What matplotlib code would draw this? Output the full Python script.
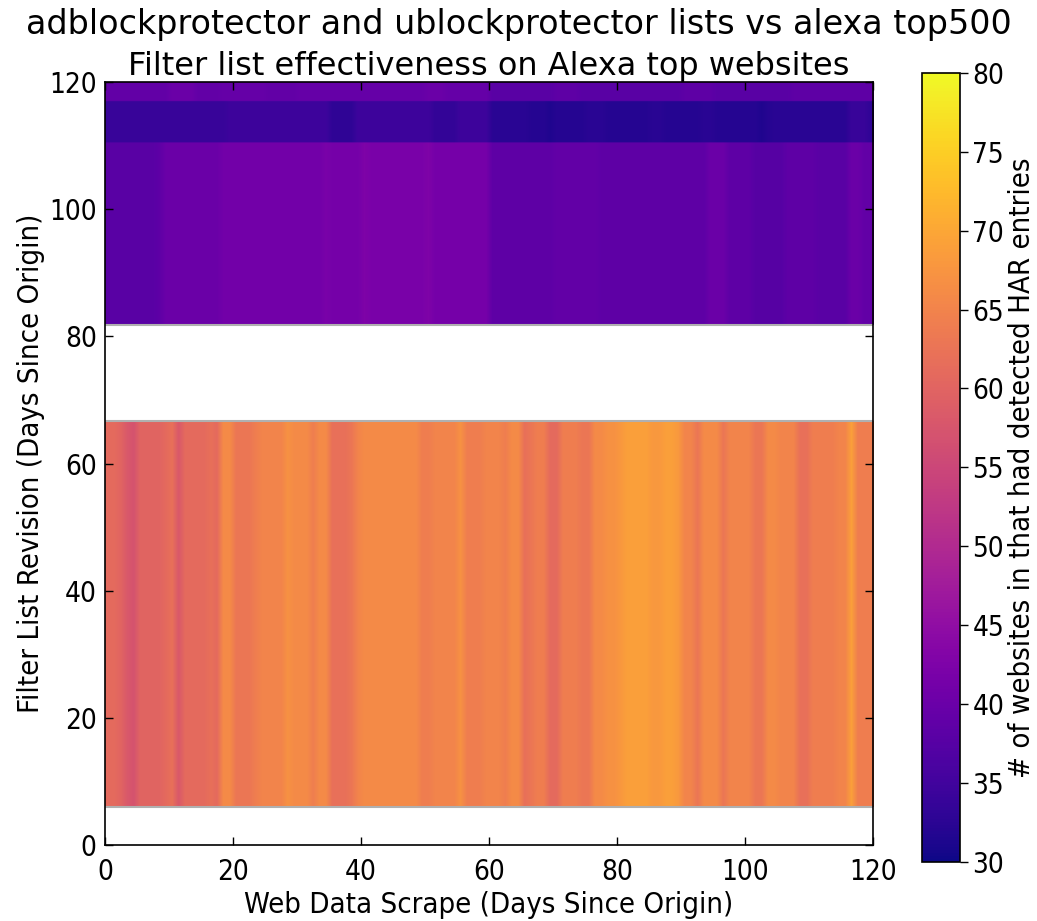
import numpy as np
import matplotlib.pyplot as plt

plt.rcParams['font.family'] = ['DejaVu Sans']

# web data scrape day (columns) and filter list revision bands (rows)
scrape_days = np.arange(121)
band_lo = [0, 6, 66.7, 81.8, 110.5, 117]
band_hi = [6, 66.7, 81.8, 110.5, 117, 120]

# detected websites per scrape day, one list per revision band
adblock_old = [61, 61, 60, 58, 57, 60, 60, 60, 60, 61,
               62, 58, 61, 61, 61, 61, 62, 61, 66, 66,
               63, 63, 63, 64, 65, 65, 65, 65, 67, 66,
               66, 66, 64, 66, 66, 62, 62, 62, 63, 65,
               66, 66, 66, 66, 66, 66, 66, 66, 66, 64,
               64, 65, 65, 65, 65, 67, 64, 64, 64, 65,
               65, 65, 64, 66, 66, 62, 63, 64, 64, 61,
               61, 64, 64, 64, 63, 63, 66, 66, 67, 67,
               68, 69, 69, 69, 69, 68, 68, 69, 69, 68,
               65, 65, 63, 66, 66, 66, 63, 65, 65, 65,
               65, 63, 63, 66, 66, 65, 65, 65, 62, 62,
               64, 64, 64, 64, 65, 65, 69, 64, 64, 64]
ublock_mid = [38, 38, 38, 38, 38, 38, 38, 38, 38.5, 40,
              40, 40, 40, 40, 40, 40, 40, 40, 41, 41,
              41, 41, 41, 41, 41, 41, 41, 41, 41, 41,
              41, 41, 41, 41, 42, 41.5, 41.5, 41.5, 41.5, 41.5,
              42.5, 42, 42, 42, 42, 42, 42, 42, 42, 42,
              42.5, 41.5, 41.5, 41.5, 41.5, 41.5, 41.5, 41.5, 41.5, 41.5,
              38.5, 38.5, 38.5, 38.5, 38.5, 38.5, 38.5, 38.5, 38.5, 38.5,
              39, 39, 39, 39, 39, 39, 39, 38.5, 38.5, 38.5,
              38.5, 38.5, 38.5, 38.5, 38.5, 38.5, 38.5, 38.5, 38.5, 38.5,
              38.5, 38.5, 38.5, 38.5, 40, 40, 40, 38.5, 38.5, 38.5,
              38.5, 37.5, 37.5, 37.5, 37.5, 37.5, 38.5, 38.5, 38.5, 38.5,
              38.5, 38, 38, 38, 38, 38, 40, 40, 39, 39]
ublock_new = [34, 34, 34, 34, 34, 34, 34, 34, 34, 34,
              34, 34, 34, 34, 34, 34, 34, 34, 34, 34.5,
              34.5, 34.5, 34.5, 34.5, 34.5, 34.5, 34.5, 34.5, 34.5, 34.5,
              34.5, 34.5, 34.5, 34.5, 34.5, 33, 33, 33, 33, 34.5,
              34.5, 34.5, 34.5, 34.5, 34.5, 34.5, 34.5, 34.5, 34.5, 34.5,
              34.5, 33.5, 33.5, 33.5, 33.5, 34.5, 34.5, 34.5, 34.5, 34.5,
              32.5, 32.5, 32.5, 32.5, 32.5, 32.5, 32, 32, 32, 31.5,
              32, 32, 32, 32, 32, 32.5, 32.5, 32.5, 32, 32,
              32, 32, 32, 32, 32, 32.5, 32.5, 32, 32, 32,
              32, 32, 32, 32.5, 32.5, 32, 32, 32, 32, 32,
              32, 32, 31.5, 32, 32.5, 32.5, 32.5, 32.5, 32.5, 32.5,
              32.5, 32.5, 32.5, 32.5, 32.5, 32.5, 34, 34, 34, 33]
ublock_last = [39, 39, 39, 39, 39, 39, 39, 39, 39, 39,
               40, 40, 40, 40, 39, 39, 39, 39, 39.5, 39.5,
               39.5, 39.5, 39.5, 39.5, 39.5, 39, 39, 39, 39, 39,
               39.5, 39.5, 39.5, 39.5, 39.5, 39.5, 39.5, 39.5, 39.5, 39.5,
               39.5, 39.5, 39.5, 39.5, 39.5, 39.5, 39.5, 39.5, 39.5, 39.5,
               40, 40, 40, 39.5, 39.5, 39.5, 39.5, 39.5, 39.5, 39.5,
               38, 38, 38, 38, 38, 38, 38, 38, 38, 38,
               38.5, 38.5, 38.5, 38.5, 38, 38, 38, 38, 38, 38,
               38, 38, 38, 38, 38, 38, 38, 38, 38, 38,
               38.5, 38.5, 38.5, 38.5, 38.5, 38, 38, 38, 38, 38,
               38, 38, 38, 38, 38, 38, 38, 38.5, 38.5, 38.5,
               38.5, 38.5, 38.5, 38.5, 38.5, 38.5, 38.5, 38.5, 38.5, 38.5]
no_data = [np.nan] * 120
band_vals = [no_data, adblock_old, no_data, ublock_mid, ublock_new, ublock_last]

# grid on 0.1 day rows so the bands keep their edges
step = 0.1
rows = []
for lo, hi, vals in zip(band_lo, band_hi, band_vals):
    n = int(round((hi - lo) / step))
    rows.append(np.tile(np.array(vals, dtype=float), (n, 1)))
grid = np.vstack(rows)

fig = plt.figure(figsize=(10.37, 9.21), dpi=100)
ax = fig.add_axes([0.1013, 0.0825, 0.7406, 0.8284])
cax = fig.add_axes([0.889, 0.064, 0.0366, 0.857])

im = ax.imshow(grid, origin='lower', cmap='plasma', vmin=30, vmax=80,
               extent=[scrape_days[0], scrape_days[-1], 0, 120],
               aspect='auto', interpolation='bilinear')

# light grey seam where the data stops
for lo, hi, vals in zip(band_lo, band_hi, band_vals):
    if np.isnan(vals[0]) and lo > 0:
        ax.axhline(lo, color='#b0b0b0', lw=1.5)
    if np.isnan(vals[0]) and hi < 120:
        ax.axhline(hi, color='#b0b0b0', lw=1.5)

lab = dict(fontsize=21, fontstretch='condensed')

ax.set_xlim(0, 120)
ax.set_ylim(0, 120)
ax.set_xticks(range(0, 121, 20))
ax.set_yticks(range(0, 121, 20))
ax.tick_params(direction='in', top=True, right=True, length=6, width=1)
ax.tick_params(axis='x', pad=9)
ax.tick_params(axis='y', pad=6)
for t in ax.get_xticklabels() + ax.get_yticklabels():
    t.set_fontsize(20)
    t.set_fontstretch('condensed')
for s in ax.spines.values():
    s.set_linewidth(1.2)
ax.set_xlabel('Web Data Scrape (Days Since Origin)', labelpad=4, **lab)
ax.set_ylabel('Filter List Revision (Days Since Origin)', labelpad=3, **lab)
ax.set_title('Filter list effectiveness on Alexa top websites', fontsize=23, pad=5)
fig.suptitle('adblockprotector and ublockprotector lists vs alexa top500',
             fontsize=24, y=0.973, va='center')

cb = fig.colorbar(im, cax=cax, ticks=range(30, 81, 5))
cb.ax.tick_params(length=6, width=1, pad=3)
for t in cb.ax.get_yticklabels():
    t.set_fontsize(20)
    t.set_fontstretch('condensed')
cb.outline.set_linewidth(1.2)
cb.set_label('# of websites in that had detected HAR entries', labelpad=3, **lab)

plt.savefig('out.png', dpi=100)
plt.close('all')
